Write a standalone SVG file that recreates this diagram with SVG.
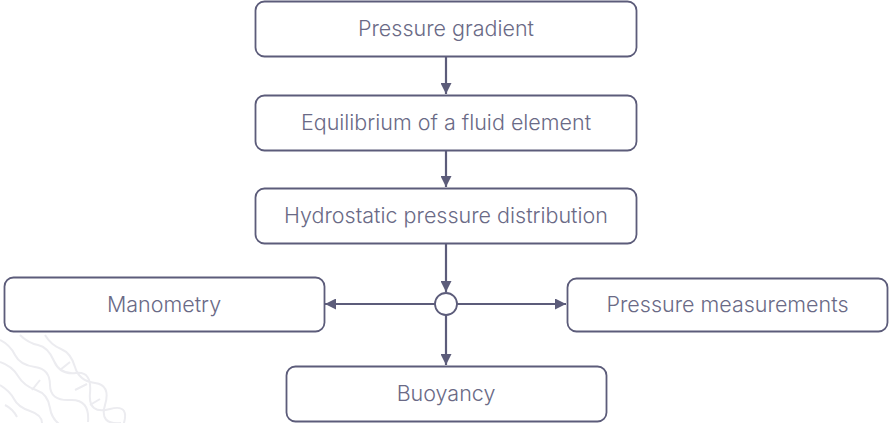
<svg xmlns="http://www.w3.org/2000/svg" width="889" height="423" viewBox="0 0 889 423">
<style>
.box{fill:#fff;stroke:#5c5c7a;stroke-width:1.8}
.lbl{font-family:Inter,"Liberation Sans",sans-serif;font-weight:300;font-size:21.5px;fill:#6a6a86;text-anchor:middle}
.con{stroke:#5c5c7a;stroke-width:2.2;fill:none}
.deco{stroke:#ececf0;stroke-width:2;fill:none}
</style>
<defs>
<marker id="ah" viewBox="0 0 10 10" refX="10" refY="5" markerWidth="5" markerHeight="5" orient="auto" markerUnits="strokeWidth">
<path d="M0,0 L10,5 L0,10 z" fill="#5c5c7a"/>
</marker>
</defs>
<rect width="889" height="423" fill="#fff"/>
<g id="decoration">
<path class="deco" d="M0,340 q10,5 15,15 t20,12 t15,18 t20,15 t18,22"/>
<path class="deco" d="M0,362 q12,4 18,14 t18,14 t14,18 t16,20"/>
<path class="deco" d="M0,385 q10,6 14,14 t16,12 t12,12"/>
<path class="deco" d="M20,335 q8,8 18,10 t16,16 t22,12 t14,20 t20,16 t12,20"/>
<path class="deco" d="M45,335 q6,10 16,14 t14,18 t20,16 t10,22 t16,18"/>
<path class="deco" d="M5,405 q8,4 12,12"/>
<path class="deco" d="M60,370 l10,-8 M75,390 l12,-6 M40,380 l-8,10 M90,405 l10,-6"/>
</g>
<g id="connectors">
<line class="con" x1="446" y1="57" x2="446" y2="94" marker-end="url(#ah)"/>
<line class="con" x1="446" y1="151" x2="446" y2="187" marker-end="url(#ah)"/>
<line class="con" x1="446" y1="244" x2="446" y2="292" marker-end="url(#ah)"/>
<line class="con" x1="435" y1="304" x2="325" y2="304" marker-end="url(#ah)"/>
<line class="con" x1="457" y1="304" x2="566" y2="304" marker-end="url(#ah)"/>
<line class="con" x1="446" y1="315" x2="446" y2="365" marker-end="url(#ah)"/>
</g>
<g id="junction">
<circle cx="446" cy="304" r="11" fill="#fff" stroke="#5c5c7a" stroke-width="1.8"/>
</g>
<g id="n1">
<rect class="box" x="255.5" y="1.5" width="381" height="55" rx="9"/>
<text class="lbl" x="446" y="36">Pressure gradient</text>
</g>
<g id="n2">
<rect class="box" x="255.5" y="95.5" width="381" height="55" rx="9"/>
<text class="lbl" x="446" y="130">Equilibrium of a fluid element</text>
</g>
<g id="n3">
<rect class="box" x="255.5" y="188.5" width="381" height="55" rx="9"/>
<text class="lbl" x="446" y="223">Hydrostatic pressure distribution</text>
</g>
<g id="n4">
<rect class="box" x="4.5" y="277.5" width="320" height="54" rx="9"/>
<text class="lbl" x="164" y="312">Manometry</text>
</g>
<g id="n5">
<rect class="box" x="567.5" y="278.5" width="320" height="53" rx="9"/>
<text class="lbl" x="727.5" y="312">Pressure measurements</text>
</g>
<g id="n6">
<rect class="box" x="286.5" y="366.5" width="320" height="55" rx="9"/>
<text class="lbl" x="446" y="401">Buoyancy</text>
</g>
</svg>
